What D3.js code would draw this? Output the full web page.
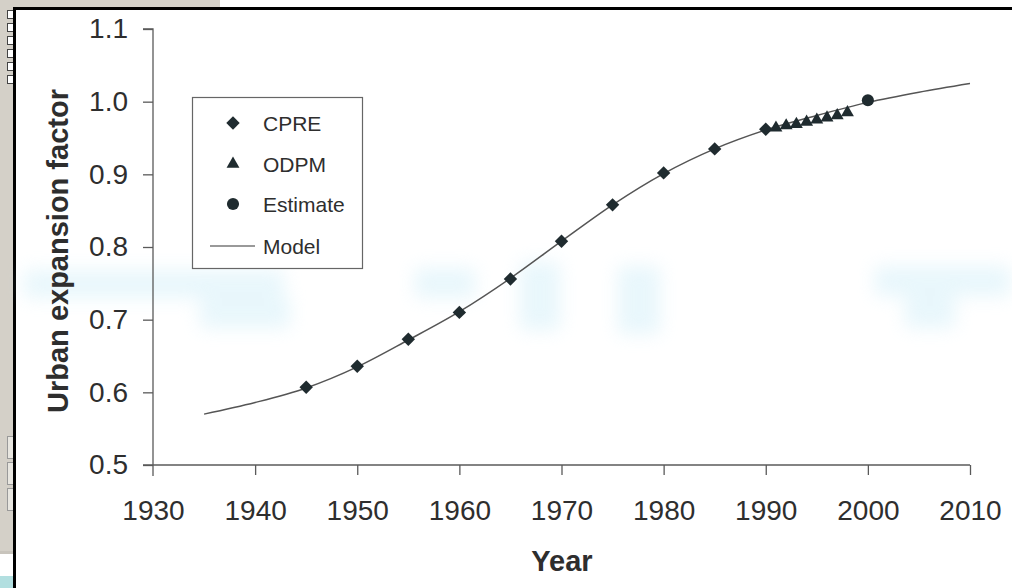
<!DOCTYPE html>
<html>
<head>
<meta charset="utf-8">
<script src="https://cdn.jsdelivr.net/npm/d3@7"></script>
<style>
  html, body { margin: 0; padding: 0; background: #fff; }
  svg { display: block; }
  text { font-family: "Liberation Sans", Arial, sans-serif; }
</style>
</head>
<body>
<svg id="chart" width="1012" height="588"></svg>
<script>
// Urban expansion factor by year
const cpreYears  = [1945, 1950, 1955, 1960, 1965, 1970, 1975, 1980, 1985, 1990];
const cpreValues = [0.607, 0.636, 0.673, 0.710, 0.756, 0.808, 0.858, 0.902, 0.935, 0.962];

const odpmYears  = [1991, 1992, 1993, 1994, 1995, 1996, 1997, 1998];
const odpmValues = [0.964, 0.967, 0.969, 0.972, 0.975, 0.978, 0.981, 0.985];

const estimateYears  = [2000];
const estimateValues = [1.002];

const modelYears  = [1935, 1940, 1945, 1950, 1955, 1960, 1965, 1970, 1975, 1980, 1985, 1990, 1995, 2000, 2005, 2010];
const modelValues = [0.570, 0.586, 0.606, 0.635, 0.672, 0.711, 0.757, 0.808, 0.858, 0.901, 0.935, 0.961, 0.981, 0.999, 1.013, 1.025];

const xTicks = [1930, 1940, 1950, 1960, 1970, 1980, 1990, 2000, 2010];
const yTicks = [0.5, 0.6, 0.7, 0.8, 0.9, 1.0, 1.1];

const legendLabels = ["CPRE", "ODPM", "Estimate", "Model"];

const svg = d3.select("#chart");
const W = 1012, H = 588;

// Window chrome around the figure
svg.append("rect").attr("x", 0).attr("y", 0).attr("width", W).attr("height", H).attr("fill", "#fff");
svg.append("rect").attr("x", 0).attr("y", 0).attr("width", 220).attr("height", 8).attr("fill", "#d4d0c8");
svg.append("rect").attr("x", 0).attr("y", 0).attr("width", 14).attr("height", 551).attr("fill", "#d4d0c8");
svg.append("rect").attr("x", 0).attr("y", 551).attr("width", 14).attr("height", 3).attr("fill", "#c8c4bc");
svg.append("rect").attr("x", 0).attr("y", 576).attr("width", 14).attr("height", 12).attr("fill", "#b2dfe0");
[10, 23, 36, 49, 62, 75].forEach(y => {
  svg.append("rect").attr("x", 7.5).attr("y", y + 0.5).attr("width", 8).attr("height", 8)
    .attr("fill", "#fff").attr("stroke", "#444").attr("stroke-width", 1);
});
[436, 462, 488].forEach(y => {
  svg.append("rect").attr("x", 7.5).attr("y", y + 0.5).attr("width", 8).attr("height", 22)
    .attr("fill", "#e8e6e0").attr("stroke", "#999").attr("stroke-width", 1);
});
svg.append("rect").attr("x", 13).attr("y", 7).attr("width", W - 13).attr("height", 3).attr("fill", "#000");
svg.append("rect").attr("x", 13).attr("y", 7).attr("width", 3).attr("height", H - 7).attr("fill", "#000");

// faint cyan tint bands
const defs = svg.append("defs");
defs.append("filter").attr("id", "soft").attr("x", "-50%").attr("y", "-50%").attr("width", "200%").attr("height", "200%")
  .append("feGaussianBlur").attr("stdDeviation", 9);
const tint = svg.append("g").attr("filter", "url(#soft)").attr("fill", "#bfe8f6").attr("opacity", 0.35);
[[24, 270, 260, 28], [200, 298, 90, 30], [415, 268, 60, 30], [520, 262, 40, 68], [618, 266, 42, 68],
 [875, 266, 135, 30], [905, 296, 50, 32]].forEach(d => {
  tint.append("rect").attr("x", d[0]).attr("y", d[1]).attr("width", d[2]).attr("height", d[3]);
});

// Scales
const x = d3.scaleLinear().domain([1930, 2010]).range([153, 970]);
const y = d3.scaleLinear().domain([0.5, 1.1]).range([465, 29]);

const axisColor = "#5a5a5a";
const textColor = "#2e2e2e";

// Y axis
const yAxis = svg.append("g").attr("transform", `translate(${x(1930)},0)`)
  .call(d3.axisLeft(y).tickValues(yTicks).tickFormat(d3.format(".1f")).tickSize(10).tickPadding(15));
yAxis.select(".domain").attr("d", `M-10,${y(1.1)}H0V${y(0.5) + 11}`);
// X axis
const xAxis = svg.append("g").attr("transform", `translate(0,${y(0.5)})`)
  .call(d3.axisBottom(x).tickValues(xTicks).tickFormat(d3.format("d")).tickSize(10).tickPadding(15));
xAxis.select(".domain").attr("d", `M${x(1930) - 10},0H${x(2010)}`);

[yAxis, xAxis].forEach(g => {
  g.attr("font-size", null).attr("font-family", null);
  g.select(".domain").attr("stroke", axisColor).attr("stroke-width", 1.3).attr("fill", "none");
  g.selectAll(".tick line").attr("stroke", axisColor).attr("stroke-width", 1.3);
  g.selectAll(".tick text").attr("fill", textColor).style("font-size", "28px")
    .style("font-family", "Liberation Sans, Arial, sans-serif");
});
xAxis.selectAll(".tick text").attr("dy", null).attr("y", 55);
xAxis.selectAll(".tick").filter(d => d === 1930).select("line").remove();

// Axis titles
svg.append("text").attr("x", 562).attr("y", 571).attr("text-anchor", "middle")
  .style("font-size", "29px").attr("font-weight", "bold").attr("fill", textColor).text("Year");
svg.append("text").attr("transform", `translate(68,251) rotate(-90)`).attr("text-anchor", "middle")
  .style("font-size", "29px").attr("font-weight", "bold").attr("fill", textColor).text("Urban expansion factor");

// Model curve
const line = d3.line().x(d => x(d[0])).y(d => y(d[1])).curve(d3.curveMonotoneX);
svg.append("path").datum(modelYears.map((yr, i) => [yr, modelValues[i]]))
  .attr("d", line).attr("fill", "none").attr("stroke", "#555").attr("stroke-width", 1.5);

const markColor = "#1f2b2f";
const diamond = d3.symbol().type(d3.symbolSquare).size(90);
const triangle = d3.symbol().type(d3.symbolTriangle).size(72);
const circle = d3.symbol().type(d3.symbolCircle).size(115);

svg.append("g").selectAll("path").data(cpreYears.map((yr, i) => [yr, cpreValues[i]])).join("path")
  .attr("d", diamond).attr("fill", markColor)
  .attr("transform", d => `translate(${x(d[0])},${y(d[1])}) rotate(45)`);
svg.append("g").selectAll("path").data(odpmYears.map((yr, i) => [yr, odpmValues[i]])).join("path")
  .attr("d", triangle).attr("fill", markColor)
  .attr("transform", d => `translate(${x(d[0])},${y(d[1])})`);
svg.append("g").selectAll("path").data(estimateYears.map((yr, i) => [yr, estimateValues[i]])).join("path")
  .attr("d", circle).attr("fill", markColor)
  .attr("transform", d => `translate(${x(d[0])},${y(d[1])})`);

// Legend
const lg = svg.append("g");
lg.append("rect").attr("x", 192.5).attr("y", 97.5).attr("width", 170).attr("height", 171)
  .attr("fill", "#fff").attr("stroke", "#666").attr("stroke-width", 1.2);
const rowY = [123, 164, 204, 246];
const symbols = [diamond, triangle, circle];
legendLabels.forEach((lab, i) => {
  if (i < 3) {
    lg.append("path").attr("d", symbols[i]).attr("fill", markColor)
      .attr("transform", `translate(233,${rowY[i]})${i === 0 ? " rotate(45)" : ""}`);
  } else {
    lg.append("line").attr("x1", 210).attr("x2", 255).attr("y1", rowY[i]).attr("y2", rowY[i])
      .attr("stroke", "#777").attr("stroke-width", 1.3);
  }
  lg.append("text").attr("x", 263).attr("y", rowY[i] + 7.5).style("font-size", "21px")
    .attr("fill", textColor).text(lab);
});
</script>
</body>
</html>
